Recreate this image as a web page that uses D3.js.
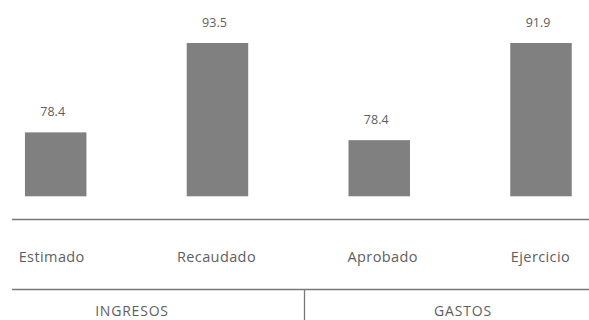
<!DOCTYPE html>
<html><head><meta charset="utf-8">
<script src="https://cdn.jsdelivr.net/npm/d3@7"></script>
<style>body{margin:0;background:#fff}svg{display:block}</style>
</head><body>
<script>
const categories = ["Estimado", "Recaudado", "Aprobado", "Ejercicio"];
const values = [78.4, 93.5, 78.4, 91.9];
const groupOf = ["INGRESOS", "INGRESOS", "GASTOS", "GASTOS"];
const groups = ["INGRESOS", "GASTOS"];
const groupMin = {INGRESOS: 67.6, GASTOS: 70.6};

const W = 589, H = 320;
const svg = d3.select("body").append("svg").attr("width", W).attr("height", H);
const font = "'Open Sans', sans-serif";
const textColor = "#5e5e5e";

const x = d3.scalePoint().domain(categories).range([55.7, 541]);
const bw = 61.5;
const yScales = {};
groups.forEach(g => {
  const max = d3.max(values.filter((v, i) => groupOf[i] === g));
  yScales[g] = d3.scaleLinear().domain([groupMin[g], max]).range([196.3, 43]);
});

const data = categories.map((c, i) => ({c, v: values[i], g: groupOf[i]}));

svg.selectAll("rect.bar").data(data).join("rect")
  .attr("class", "bar")
  .attr("x", d => x(d.c) - bw / 2)
  .attr("width", bw)
  .attr("y", d => yScales[d.g](d.v))
  .attr("height", d => yScales[d.g](groupMin[d.g]) - yScales[d.g](d.v))
  .attr("fill", "#808080");

svg.selectAll("text.val").data(data).join("text")
  .attr("class", "val")
  .attr("x", d => x(d.c) - 3)
  .attr("y", d => yScales[d.g](d.v) - 16)
  .attr("text-anchor", "middle")
  .attr("font-family", font).attr("font-size", 12.5)
  .attr("fill", textColor)
  .text(d => d.v.toFixed(1));

// horizontal rules
[219.5, 289.5].forEach(yy => {
  svg.append("line").attr("x1", 12).attr("x2", W).attr("y1", yy).attr("y2", yy)
    .attr("stroke", "#777").attr("stroke-width", 1.3);
});
// vertical divider
svg.append("line").attr("x1", 304.5).attr("x2", 304.5).attr("y1", 289.5).attr("y2", H)
  .attr("stroke", "#777").attr("stroke-width", 1.3);

svg.selectAll("text.cat").data(data).join("text")
  .attr("class", "cat")
  .attr("x", (d, i) => x(d.c) + [-4, -1, 3.5, -0.5][i])
  .attr("y", 262)
  .attr("text-anchor", "middle")
  .attr("font-family", font).attr("font-size", 14.5)
  .attr("letter-spacing", 0.4)
  .attr("fill", textColor)
  .text(d => d.c);

const groupX = {INGRESOS: 132, GASTOS: 463};
svg.selectAll("text.grp").data(groups).join("text")
  .attr("class", "grp")
  .attr("x", g => groupX[g])
  .attr("y", 316)
  .attr("text-anchor", "middle")
  .attr("font-family", font).attr("font-size", 14)
  .attr("letter-spacing", 0.8)
  .attr("fill", textColor)
  .text(g => g);
</script>
</body></html>
